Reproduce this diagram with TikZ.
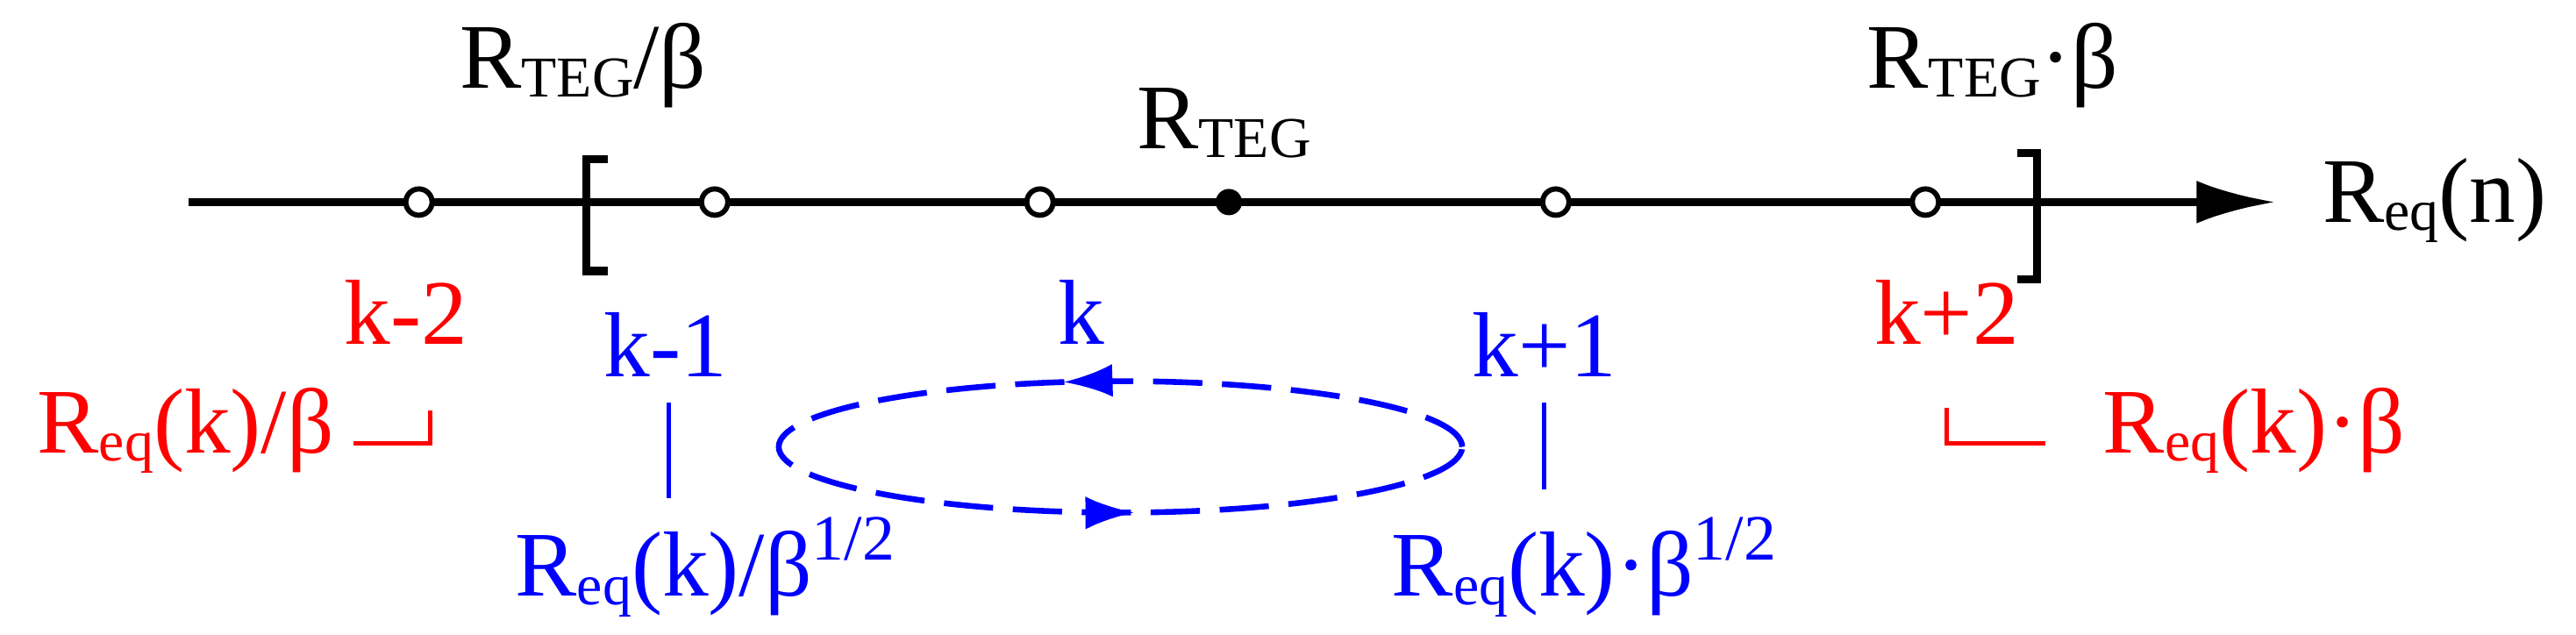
\documentclass[tikz,border=0pt]{standalone}
\usepackage{fontspec}
\setmainfont{Liberation Serif}
\usetikzlibrary{arrows.meta,decorations.markings}
\newcommand{\lsub}[1]{\raisebox{-0.2ex}{\fontsize{10}{11}\selectfont #1}}
\begin{document}
\begin{tikzpicture}[x=1cm,y=1cm,
  txt/.style={inner sep=0pt,font=\fontsize{16}{18}\selectfont},
  opn/.style={circle,draw,fill=white,line width=0.9pt,minimum size=0.16cm,inner sep=0pt},
  cls/.style={circle,fill,minimum size=0.16cm,inner sep=0pt}]
\useasboundingbox (0,0) rectangle (15.68,3.86);

% axis
\coordinate (s) at (1.15,2.63);
\coordinate (e) at (13.85,2.63);
\draw [line width=1.4pt,-{Latex[length=0.48cm,width=0.26cm]}] (s) -- (e);
\foreach \x/\name in {2.55/p2,4.35/p1,6.33/p0,9.47/q1,11.72/q2}{
 \node[opn] (\name) at (\x,2.63) {};
 }
\node[cls] (c) at (7.48,2.63) {};

% brackets
\draw [line width=1.4pt] (3.70,2.89) -- (3.57,2.89) -- (3.57,2.21) -- (3.70,2.21);
\draw [line width=1.4pt] (12.28,2.93) -- (12.40,2.93) -- (12.40,2.16) -- (12.28,2.16);

% top labels
\node[txt] (lo) at (3.55,3.46) {R\lsub{TEG}/β};
\node[txt] (mid) at (7.45,3.11) {R\lsub{TEG}};
\node[txt] (hi) at (12.13,3.46) {R\lsub{TEG}·β};
\node[txt] (ax) at (14.82,2.64) {R\lsub{eq}(n)};

% indices
\node[txt,red] (km2) at (2.47,1.96) {k-2};
\node[txt,blue] (km1) at (4.05,1.76) {k-1};
\node[txt,blue] (k0) at (6.58,1.96) {k};
\node[txt,blue] (kp1) at (9.40,1.76) {k+1};
\node[txt,red] (kp2) at (11.85,1.96) {k+2};

% values
\node[txt,red] (vm2) at (1.13,1.24) {R\lsub{eq}(k)/β};
\node[txt,red] (vp2) at (13.72,1.24) {R\lsub{eq}(k)·β};
\node[txt,blue] (vm1) at (4.30,0.41) {R\lsub{eq}(k)/β\textsuperscript{1/2}};
\node[txt,blue] (vp1) at (9.65,0.41) {R\lsub{eq}(k)·β\textsuperscript{1/2}};

\draw [red,line width=0.8pt] (2.15,1.16) -- (2.62,1.16) -- (2.62,1.36);
\draw [red,line width=0.8pt] (11.85,1.38) -- (11.85,1.16) -- (12.45,1.16);
\draw [blue,line width=0.8pt] (4.07,1.41) -- (4.07,0.83);
\draw [blue,line width=0.8pt] (9.40,1.41) -- (9.40,0.88);

% loop
\draw [blue,line width=1pt,dash pattern=on 0.3cm off 0.12cm,
  decoration={markings,
   mark=at position 0.29 with {\arrow{Latex[length=0.3cm,width=0.2cm]}},
   mark=at position 0.76 with {\arrow{Latex[length=0.3cm,width=0.2cm]}}},
  postaction={decorate}] (6.82,1.14) ellipse (2.08 and 0.40);
\end{tikzpicture}
\end{document}
